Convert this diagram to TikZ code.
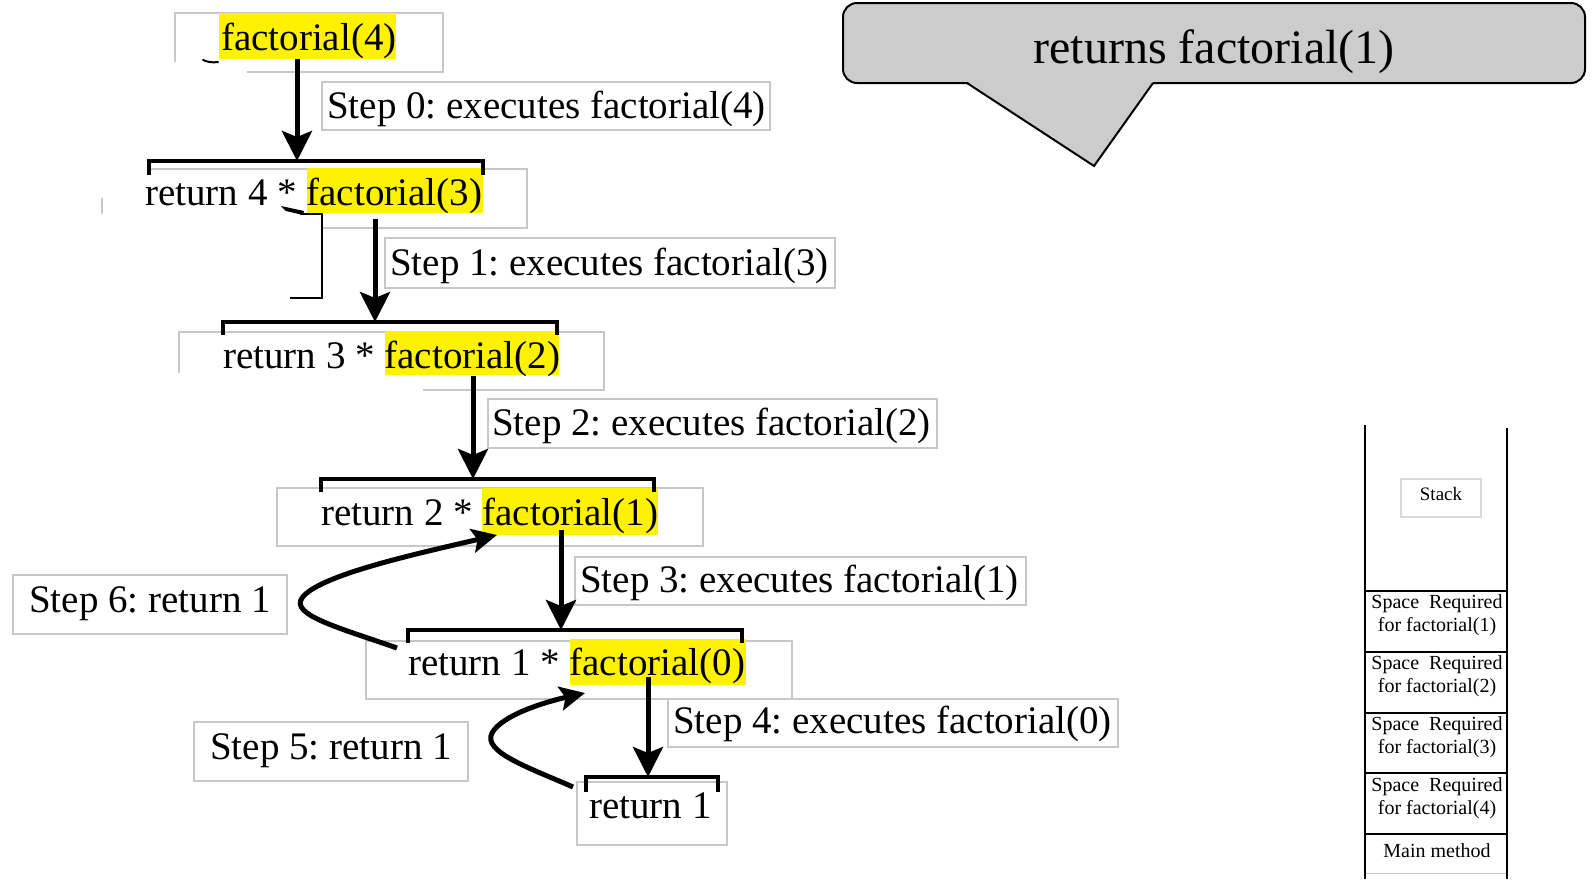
\documentclass[tikz,border=0pt]{standalone}
\usepackage{fontspec}
\setmainfont{Liberation Serif}
\usetikzlibrary{arrows.meta}
\frenchspacing

\tikzset{
  txt/.style={anchor=base west, inner sep=0pt, font=\fontsize{39}{44}\selectfont},
  frame/.style={draw=black!22, line width=1.1pt},
  hl/.style={fill=yellow},
  brk/.style={line width=3.6pt, line join=miter},
  callarrow/.style={line width=5pt, -{Stealth[length=30pt,width=30pt,inset=6pt]}},
  backarrow/.style={line width=5pt, -{Stealth[length=25pt,width=24pt,inset=5pt]}},
  stk/.style={anchor=base, inner sep=0pt, font=\fontsize{20}{22}\selectfont},
  stkline/.style={line width=2.5pt},
}

\begin{document}
\begin{tikzpicture}[x=1pt,y=-1pt]
\fill[white] (0,0) rectangle (1593,879);
\useasboundingbox (0,0) rectangle (1593,879);

% ---- light frames of the text boxes ----
\draw[frame] (175,62) -- (175,13) -- (443,13) -- (443,72) -- (247,72);
\draw[frame] (150,169) -- (527,169) -- (527,228) -- (322,228);
\draw[frame] (102,198) -- (102,214);
\draw[frame] (179,373) -- (179,332) -- (604,332) -- (604,390) -- (423,390);
\draw[frame] (277,488) rectangle (703,546);
\draw[frame] (366,641) rectangle (792,699);
\draw[frame] (577,782) rectangle (727,845);

\draw[frame] (322,82) rectangle (770,130);
\draw[frame] (385,238) rectangle (835,288);
\draw[frame] (488,399) rectangle (937,448);
\draw[frame] (575,557) rectangle (1026,605);
\draw[frame] (668,699) rectangle (1118,747);
\draw[frame] (194,722) rectangle (468,781);
\draw[frame] (13,575) rectangle (287,634);

% ---- highlighted calls ----
\fill[hl] (219,13) rectangle (396,59);
\fill[hl] (307,168) rectangle (483,213);
\fill[hl] (385,331) rectangle (559,375);
\fill[hl] (482,488) rectangle (658,535);
\fill[hl] (570,639) rectangle (746,685);

% ---- call chain ----
\node[txt] (r4) at (221,50) {factorial(4)};
\node[txt] (r3) at (145,205) {return 4 * factorial(3)};
\node[txt] (r2) at (223,368) {return 3 * factorial(2)};
\node[txt] (r1) at (321,525) {return 2 * factorial(1)};
\node[txt] (r0) at (408,675) {return 1 * factorial(0)};
\node[txt] (rb) at (589,818) {return 1};

\node[txt] (s0) at (327,118) {Step 0: executes factorial(4)};
\node[txt] (s1) at (390,275) {Step 1: executes factorial(3)};
\node[txt] (s2) at (492,435) {Step 2: executes factorial(2)};
\node[txt] (s3) at (580,592) {Step 3: executes factorial(1)};
\node[txt] (s4) at (673,733) {Step 4: executes factorial(0)};
\node[txt] (s5) at (210,759) {Step 5: return 1};
\node[txt] (s6) at (29,612) {Step 6: return 1};

% small pen marks
\draw[line width=2pt, line cap=round] (203,60) to[bend right=15] (218,62);
\fill (281,206) -- (304,211) -- (303,215) -- (286,211) -- cycle;
\draw[line width=1.3pt] (300,214) -- (322,214) -- (322,298) -- (290,298);

% ---- brackets over each frame ----
\draw[brk] (149,175) -- (149,161) -- (483,161) -- (483,175);
\draw[brk] (223,335) -- (223,322) -- (557,322) -- (557,335);
\draw[brk] (321,492) -- (321,479) -- (654,479) -- (654,492);
\draw[brk] (408,643) -- (408,630) -- (742,630) -- (742,643);
\draw[brk] (586,792) -- (586,777) -- (718,777) -- (718,792);

% ---- call arrows ----
\coordinate (a0s) at (297,59);  \coordinate (a0e) at (297,161);
\coordinate (a1s) at (375,219); \coordinate (a1e) at (375,322);
\coordinate (a2s) at (473,376); \coordinate (a2e) at (473,479);
\coordinate (a3s) at (561,530); \coordinate (a3e) at (561,630);
\coordinate (a4s) at (648,677); \coordinate (a4e) at (648,777);
\draw[callarrow] (a0s) -- (a0e);
\draw[callarrow] (a1s) -- (a1e);
\draw[callarrow] (a2s) -- (a2e);
\draw[callarrow] (a3s) -- (a3e);
\draw[callarrow] (a4s) -- (a4e);

% ---- return arrows ----
\coordinate (c6s) at (397,648); \coordinate (c6e) at (497,535);
\coordinate (c5s) at (573,787); \coordinate (c5e) at (585,693);
\draw[backarrow] (c6s) .. controls (340,628) and (290,615) .. (302,598)
                       .. controls (318,575) and (420,553) .. (c6e);
\draw[backarrow] (c5s) .. controls (530,768) and (482,752) .. (492,733)
                       .. controls (502,715) and (545,702) .. (c5e);

% ---- callout ----
\draw[line width=2pt, fill=black!20, rounded corners=14pt] (843,3) rectangle (1585,83);
\fill[black!20] (966,81) -- (1154,81) -- (1094,166) -- cycle;
\draw[line width=2pt, line join=miter] (967,83) -- (1094,166) -- (1153,83);
\node[anchor=base, inner sep=0pt, font=\fontsize{48}{50}\selectfont] (ret) at (1214,63) {returns factorial(1)};

% ---- call stack ----
\draw[stkline] (1365,425) -- (1365,879);
\draw[stkline] (1507,428) -- (1507,879);
\foreach \yy in {591,652,713,773,834}
  \draw[stkline] (1365,\yy) -- (1507,\yy);
\draw[black!20, line width=1pt] (1366,873) -- (1506,873);
\draw[frame, draw=black!15] (1401,479) rectangle (1481,517);
\node[stk, font=\fontsize{19}{21}\selectfont] (stk) at (1441,500) {Stack};
\node[stk] (f1a) at (1437,608) {Space\ \ Required};
\node[stk] (f1b) at (1437,631) {for factorial(1)};
\node[stk] (f2a) at (1437,669) {Space\ \ Required};
\node[stk] (f2b) at (1437,692) {for factorial(2)};
\node[stk] (f3a) at (1437,730) {Space\ \ Required};
\node[stk] (f3b) at (1437,753) {for factorial(3)};
\node[stk] (f4a) at (1437,791) {Space\ \ Required};
\node[stk] (f4b) at (1437,814) {for factorial(4)};
\node[stk] (mm) at (1437,857) {Main method};
\end{tikzpicture}
\end{document}
